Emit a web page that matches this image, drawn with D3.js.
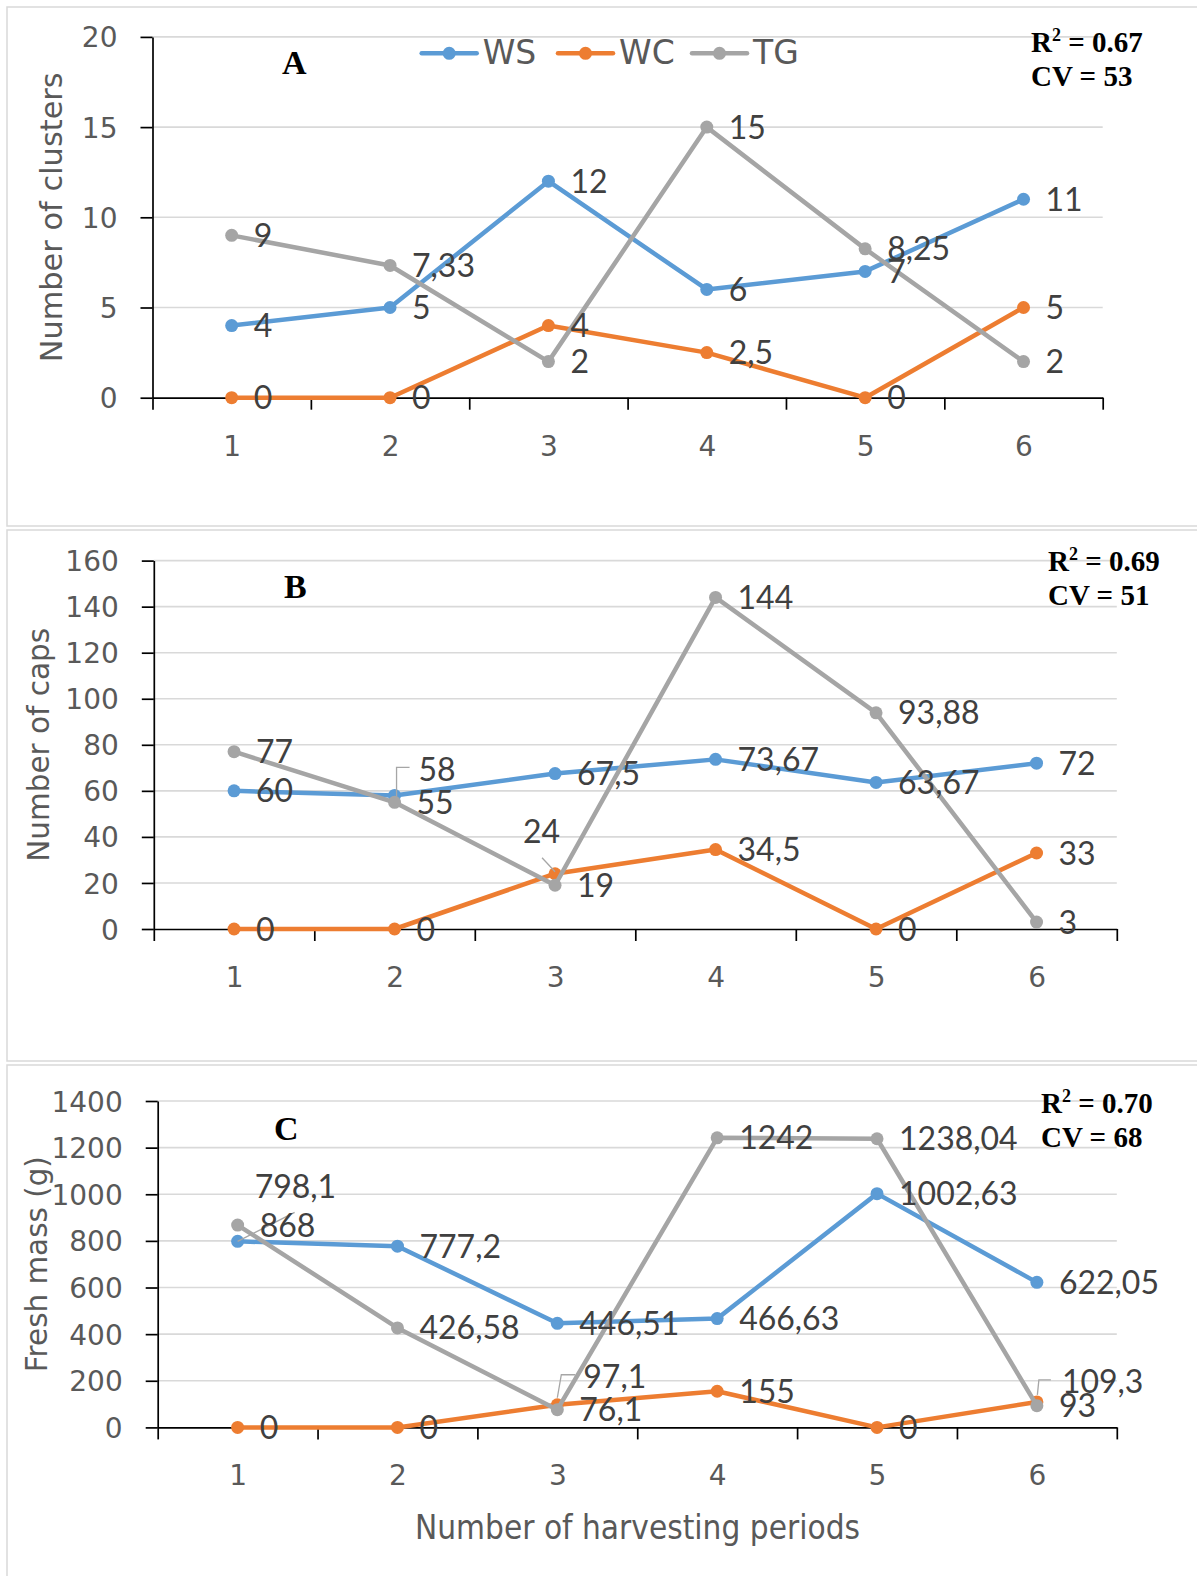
<!DOCTYPE html>
<html>
<head>
<meta charset="utf-8">
<script src="https://cdn.jsdelivr.net/npm/d3@7"></script>
<style>
  html, body { margin: 0; padding: 0; background: #ffffff; }
  svg { display: block; }
</style>
</head>
<body>
<svg id="chart" width="1197" height="1576"></svg>
<script>
// Harvest periods shared by all three panels
const periods = ["1", "2", "3", "4", "5", "6"];
const seriesNames = ["WS", "WC", "TG"];

// A: number of clusters
const clustersWS = [4, 5, 12, 6, 7, 11];
const clustersWC = [0, 0, 4, 2.5, 0, 5];
const clustersTG = [9, 7.33, 2, 15, 8.25, 2];
const clusterTicks = [0, 5, 10, 15, 20];

// B: number of caps
const capsWS = [60, 58, 67.5, 73.67, 63.67, 72];
const capsWC = [0, 0, 24, 34.5, 0, 33];
const capsTG = [77, 55, 19, 144, 93.88, 3];
const capTicks = [0, 20, 40, 60, 80, 100, 120, 140, 160];

// C: fresh mass (g)
const massWS = [798.1, 777.2, 446.51, 466.63, 1002.63, 622.05];
const massWC = [0, 0, 97.1, 155, 0, 109.3];
const massTG = [868, 426.58, 76.1, 1242, 1238.04, 93];
const massTicks = [0, 200, 400, 600, 800, 1000, 1200, 1400];

// Fit statistics shown in each panel
const panelLetters = ["A", "B", "C"];
const r2Values = ["0.67", "0.69", "0.70"];
const cvValues = ["53", "51", "68"];
const yTitles = ["Number of clusters", "Number of caps", "Fresh mass (g)"];
const xTitle = "Number of harvesting periods";

const colors = { WS: "#5b9bd5", WC: "#ed7d31", TG: "#a5a5a5" };
const tickFont = "'DejaVu Sans', sans-serif";
const labelFont = "Lato, 'Open Sans', sans-serif";
const tickColor = "#595959";
const labelColor = "#404040";

const svg = d3.select("#chart");

// Panel frames
const frames = [
  { y0: 7, y1: 526 },
  { y0: 530, y1: 1061 },
  { y0: 1065, y1: 1590 }
];
frames.forEach(f => {
  svg.append("rect")
    .attr("x", 7).attr("y", f.y0)
    .attr("width", 1210).attr("height", f.y1 - f.y0)
    .attr("fill", "none").attr("stroke", "#d9d9d9").attr("stroke-width", 1.5);
});

const panels = [
  {
    series: { WS: clustersWS, WC: clustersWC, TG: clustersTG }, ticks: clusterTicks,
    left: 152.5, right: 1102.7, top: 36.9, bottom: 397.7,
    titleX: 62, titleLen: 290,
    letter: { x: 282, y: 74 }, stats: { x: 1031, y1: 52, y2: 86 }
  },
  {
    series: { WS: capsWS, WC: capsWC, TG: capsTG }, ticks: capTicks,
    left: 153.8, right: 1116.8, top: 560.6, bottom: 929,
    titleX: 49, titleLen: 234,
    letter: { x: 284, y: 598 }, stats: { x: 1048, y1: 571, y2: 605 }
  },
  {
    series: { WS: massWS, WC: massWC, TG: massTG }, ticks: massTicks,
    left: 157.7, right: 1116.8, top: 1101, bottom: 1427.4,
    titleX: 47, titleLen: 216,
    letter: { x: 274, y: 1140 }, stats: { x: 1041, y1: 1113, y2: 1147 }
  }
];

// Labels that sit away from their point, with a leader line back to it
const callouts = [
  { panel: 1, series: "WS", index: 1, dx: 24, dy: -26, leader: [[2, 1], [2, -28], [15, -28]] },
  { panel: 1, series: "WC", index: 2, dx: -32, dy: -42, leader: [[-13, -16], [0, -2]] },
  { panel: 2, series: "WS", index: 0, dx: 17, dy: -55, leader: [[0, 0], [57, -29]] },
  { panel: 2, series: "WC", index: 2, dx: 26, dy: -28, leader: [[0, -7], [4, -30], [18, -30]] },
  { panel: 2, series: "WC", index: 5, dx: 25, dy: -20, leader: [[0.5, -7], [2, -22], [14, -22]] }
];

const fmt = v => String(v).replace(".", ",");

panels.forEach((p, pi) => {
  const g = svg.append("g");
  const x = d3.scalePoint().domain(periods).range([p.left, p.right]).padding(0.5);
  const xb = d3.scaleLinear().domain([0, periods.length]).range([p.left, p.right]);
  const y = d3.scaleLinear().domain([0, d3.max(p.ticks)]).range([p.bottom, p.top]);

  // horizontal gridlines
  g.append("g").selectAll("line")
    .data(p.ticks.filter(t => t > 0))
    .join("line")
    .attr("x1", p.left).attr("x2", p.right)
    .attr("y1", d => y(d)).attr("y2", d => y(d))
    .attr("stroke", "#d9d9d9").attr("stroke-width", 1.6);

  // y axis
  const yAxis = g.append("g")
    .attr("transform", `translate(${p.left},0)`)
    .call(d3.axisLeft(y).tickValues(p.ticks).tickFormat(d3.format("d"))
      .tickSize(12).tickSizeOuter(0).tickPadding(23));
  yAxis.select(".domain").attr("stroke", "#000").attr("stroke-width", 1.7);
  yAxis.selectAll(".tick line").attr("stroke", "#000").attr("stroke-width", 1.7);
  yAxis.selectAll(".tick text")
    .attr("font-family", tickFont).attr("font-size", 28)
    .attr("fill", tickColor).attr("dy", "0.36em");

  // x axis with ticks on category boundaries
  const xAxis = g.append("g")
    .attr("transform", `translate(0,${p.bottom})`)
    .call(d3.axisBottom(xb).tickValues(d3.range(periods.length + 1)).tickSize(12).tickSizeOuter(0).tickFormat(""));
  xAxis.select(".domain").attr("stroke", "#000").attr("stroke-width", 1.7);
  xAxis.selectAll(".tick line").attr("stroke", "#000").attr("stroke-width", 1.7);

  // category labels
  const xLab = g.append("g")
    .attr("transform", `translate(0,${p.bottom})`)
    .call(d3.axisBottom(x).tickSize(0).tickPadding(38));
  xLab.select(".domain").remove();
  xLab.selectAll(".tick text")
    .attr("font-family", tickFont).attr("font-size", 28).attr("fill", tickColor);

  // y title
  g.append("text")
    .attr("transform", `translate(${p.titleX},${(p.top + p.bottom) / 2}) rotate(-90)`)
    .attr("text-anchor", "middle")
    .attr("font-family", tickFont).attr("font-size", 30).attr("fill", tickColor)
    .attr("textLength", p.titleLen).attr("lengthAdjust", "spacingAndGlyphs")
    .text(yTitles[pi]);

  // panel letter
  g.append("text")
    .attr("x", p.letter.x).attr("y", p.letter.y)
    .attr("font-family", "'Liberation Serif', 'Times New Roman', serif")
    .attr("font-weight", "bold").attr("font-size", 34).attr("fill", "#000")
    .text(panelLetters[pi]);

  // fit statistics
  const st = g.append("g")
    .attr("font-family", "'Liberation Serif', 'Times New Roman', serif")
    .attr("font-weight", "bold").attr("font-size", 29).attr("fill", "#000");
  const r2 = st.append("text").attr("x", p.stats.x).attr("y", p.stats.y1);
  r2.append("tspan").text("R");
  r2.append("tspan").attr("dy", -11).attr("font-size", 18).text("2");
  r2.append("tspan").attr("dy", 11).text(" = " + r2Values[pi]);
  st.append("text").attr("x", p.stats.x).attr("y", p.stats.y2).text("CV = " + cvValues[pi]);

  // series lines and markers
  const line = d3.line().x((d, i) => x(periods[i])).y(d => y(d));
  seriesNames.forEach(name => {
    const vals = p.series[name];
    const sg = g.append("g");
    sg.append("path")
      .attr("d", line(vals))
      .attr("fill", "none").attr("stroke", colors[name])
      .attr("stroke-width", 4.5).attr("stroke-linejoin", "round").attr("stroke-linecap", "round");
    sg.selectAll("circle").data(vals).join("circle")
      .attr("cx", (d, i) => x(periods[i])).attr("cy", d => y(d))
      .attr("r", 6.5).attr("fill", colors[name]);
  });

  // data labels
  const lg = g.append("g");
  seriesNames.forEach(name => {
    const vals = p.series[name];
    vals.forEach((v, i) => {
      const px = x(periods[i]), py = y(v);
      const c = callouts.find(o => o.panel === pi && o.series === name && o.index === i);
      const dx = c ? c.dx : 22, dy = c ? c.dy : 0;
      if (c) {
        lg.append("path")
          .attr("d", d3.line()(c.leader.map(([lx, ly]) => [px + lx, py + ly])))
          .attr("fill", "none").attr("stroke", "#a6a6a6").attr("stroke-width", 1.3);
      }
      lg.append("text")
        .attr("x", px + dx).attr("y", py + dy).attr("dy", "0.36em")
        .attr("font-family", labelFont).attr("font-size", 32).attr("fill", labelColor)
        .text(fmt(v));
    });
  });

  // legend (top panel only)
  if (pi === 0) {
    const legendX = [421.7, 558, 692];
    const leg = svg.append("g");
    seriesNames.forEach((name, i) => {
      const lx = legendX[i], ly = 53.3;
      leg.append("line")
        .attr("x1", lx).attr("x2", lx + 55).attr("y1", ly).attr("y2", ly)
        .attr("stroke", colors[name]).attr("stroke-width", 4.5).attr("stroke-linecap", "round");
      leg.append("circle").attr("cx", lx + 27.5).attr("cy", ly).attr("r", 6.5).attr("fill", colors[name]);
      leg.append("text")
        .attr("x", lx + 61).attr("y", 63.5)
        .attr("font-family", tickFont).attr("font-size", 33).attr("fill", tickColor)
        .text(name);
    });
  }
});

// shared x title
svg.append("text")
  .attr("x", 637.5).attr("y", 1539)
  .attr("text-anchor", "middle")
  .attr("font-family", tickFont).attr("font-size", 33).attr("fill", tickColor)
  .attr("textLength", 445).attr("lengthAdjust", "spacingAndGlyphs")
  .text(xTitle);
</script>
</body>
</html>
